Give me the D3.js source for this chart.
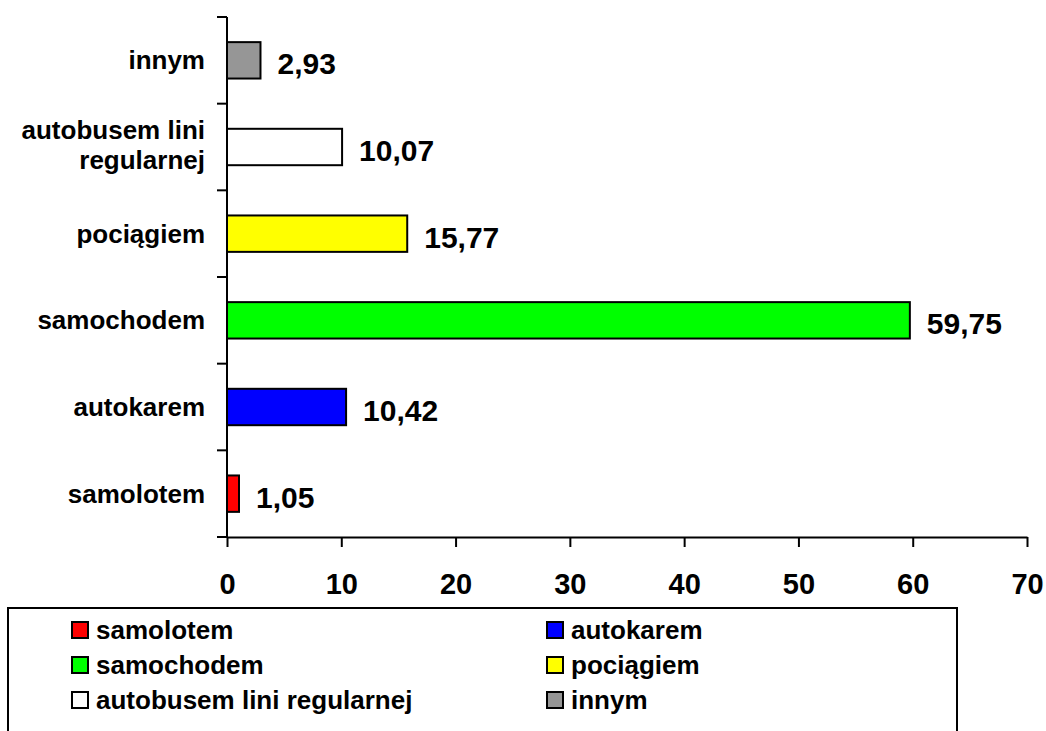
<!DOCTYPE html>
<html>
<head>
<meta charset="utf-8">
<script src="https://cdn.jsdelivr.net/npm/d3@7"></script>
<style>
  body { margin: 0; background: #fff; }
  text { font-family: "Liberation Sans", Arial, sans-serif; font-weight: bold; fill: #000; }
</style>
</head>
<body>
<div id="chart"></div>
<script>
// data, bottom to top as in the chart
const categories = ["samolotem", "autokarem", "samochodem", "pociągiem", "autobusem lini regularnej", "innym"];
const values = [1.05, 10.42, 59.75, 15.77, 10.07, 2.93];
const colors = ["#ff0000", "#0000ff", "#00ff00", "#ffff00", "#ffffff", "#969696"];
const xTicks = [0, 10, 20, 30, 40, 50, 60, 70];

const W = 1046, H = 731;
const plot = { left: 227, right: 1027, top: 17, bottom: 537 };

const svg = d3.select("#chart")
    .append("svg")
    .attr("width", W)
    .attr("height", H);

const data = categories.map((c, i) => ({ name: c, value: values[i], color: colors[i] }));

const x = d3.scaleLinear()
    .domain([0, 70])
    .range([plot.left, plot.right]);

// band for the categories, top row is the last one
const y = d3.scaleBand()
    .domain(categories.slice().reverse())
    .range([plot.top, plot.bottom])
    .paddingInner(0.58)
    .paddingOuter(0.29);
const step = y.step();

// bars
svg.selectAll(".bar")
    .data(data)
    .enter()
    .append("rect")
    .attr("class", "bar")
    .attr("x", x(0))
    .attr("y", d => y(d.name))
    .attr("width", d => x(d.value) - x(0))
    .attr("height", y.bandwidth())
    .attr("fill", d => d.color)
    .attr("stroke", "#000")
    .attr("stroke-width", 2);

// value labels
svg.selectAll(".val")
    .data(data)
    .enter()
    .append("text")
    .attr("class", "val")
    .attr("x", d => x(d.value) + 17)
    .attr("y", d => y(d.name) + y.bandwidth() / 2 + 14)
    .attr("font-size", "30px")
    .text(d => d.value.toFixed(2).replace(".", ","));

// y axis: line + ticks at band boundaries
svg.append("line")
    .attr("x1", plot.left).attr("x2", plot.left)
    .attr("y1", plot.top).attr("y2", plot.bottom)
    .attr("stroke", "#000").attr("stroke-width", 2);
const bounds = d3.range(categories.length + 1).map(i => plot.top + i * step);
svg.selectAll(".ytick")
    .data(bounds)
    .enter()
    .append("line")
    .attr("x1", plot.left - 10).attr("x2", plot.left)
    .attr("y1", d => d).attr("y2", d => d)
    .attr("stroke", "#000").attr("stroke-width", 2);

// category labels, wrapped when too wide
const catLabels = svg.selectAll(".cat")
    .data(data)
    .enter()
    .append("text")
    .attr("class", "cat")
    .attr("text-anchor", "end")
    .attr("font-size", "26px")
    .each(function(d) {
        const t = d3.select(this);
        const cy = y(d.name) + y.bandwidth() / 2;
        const words = d.name.split(" ");
        let lines = [], cur = [];
        const probe = t.append("tspan");
        words.forEach(w => {
            const test = cur.concat(w).join(" ");
            probe.text(test);
            if (probe.node().getComputedTextLength() > 200 && cur.length) {
                lines.push(cur.join(" "));
                cur = [w];
            } else cur.push(w);
        });
        lines.push(cur.join(" "));
        probe.remove();
        const first = lines.length === 1 ? cy + 9 : cy - 8;
        lines.forEach((l, i) => {
            t.append("tspan")
                .attr("x", 205)
                .attr("y", first + i * 30)
                .text(l);
        });
    });

// x axis
const xAxis = svg.append("g")
    .attr("transform", `translate(0,${plot.bottom})`)
    .call(d3.axisBottom(x).tickValues(xTicks).tickSize(10).tickSizeOuter(0).tickPadding(26));
xAxis.select(".domain").attr("stroke", "#000").attr("stroke-width", 2);
xAxis.selectAll(".tick line").attr("stroke", "#000").attr("stroke-width", 2);
xAxis.selectAll(".tick text")
    .attr("font-family", "'Liberation Sans', Arial, sans-serif")
    .attr("font-weight", "bold")
    .attr("font-size", "29px")
    .attr("fill", "#000");

// legend
svg.append("rect")
    .attr("x", 8).attr("y", 608)
    .attr("width", 949).attr("height", 140)
    .attr("fill", "none")
    .attr("stroke", "#000")
    .attr("stroke-width", 2);

const legendCols = [72, 547];
const legend = svg.selectAll(".leg")
    .data(data)
    .enter()
    .append("g")
    .attr("class", "leg")
    .attr("transform", (d, i) => `translate(${legendCols[i % 2]},${622 + Math.floor(i / 2) * 35})`);
legend.append("rect")
    .attr("width", 16).attr("height", 16)
    .attr("fill", d => d.color)
    .attr("stroke", "#000")
    .attr("stroke-width", 2);
legend.append("text")
    .attr("x", 24)
    .attr("y", 17)
    .attr("font-size", "26px")
    .text(d => d.name);
</script>
</body>
</html>
